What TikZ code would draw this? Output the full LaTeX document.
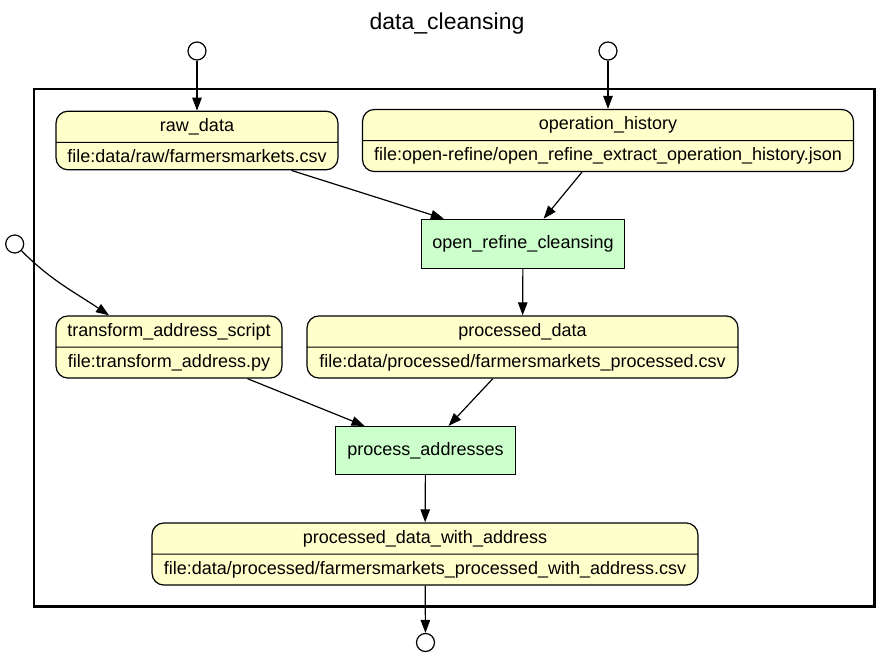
\documentclass[tikz,border=0pt]{standalone}
\usepackage{fontspec}
\setmainfont{Liberation Sans}
\usetikzlibrary{shapes.multipart,arrows.meta}
\definecolor{datafill}{HTML}{FFFFCC}
\definecolor{progfill}{HTML}{CCFFCC}
\begin{document}
\begin{tikzpicture}[x=1pt,y=1pt,font=\fontsize{18}{21}\selectfont,
  datanode/.style={draw,fill=datafill,rounded corners=12pt,rectangle split,rectangle split parts=2,
    inner xsep=0pt,inner ysep=6.5pt,text height=13pt,text depth=4pt,line width=1.2pt},
  prognode/.style={draw,fill=progfill,rectangle,inner sep=0pt,line width=1.2pt},
  port/.style={draw,circle,fill=white,minimum size=18pt,inner sep=0pt,line width=1.2pt},
  flow/.style={-{Triangle[length=13pt,width=9.5pt]},line width=1.2pt}]
\useasboundingbox (0,0) rectangle (891,657);
\def\bl{34}
\def\br{874.5}

\node[font=\fontsize{23}{27}\selectfont] (title) at (447,633) {data\_cleansing};
\draw[line width=2.6pt] (\bl,568) rectangle (\br,50.5);

% inputs and output
\node[port] (in1) at (197,606) {};
\node[port] (in2) at (608,606) {};
\node[port] (in3) at (14.7,413) {};
\node[port] (out1) at (425.5,14.5) {};

\node[datanode,minimum width=282pt] (raw) at (197,516.5) {raw\_data\nodepart{two}file:data/raw/farmersmarkets.csv};
\node[datanode,minimum width=491pt] (ophist) at (608,516.5) {operation\_history\nodepart{two}file:open-refine/open\_refine\_extract\_operation\_history.json};
\node[prognode,minimum width=203pt,minimum height=49pt] (orc) at (523,413.2) {open\_refine\_cleansing};
\node[datanode,minimum width=226pt] (tas) at (169,310) {transform\_address\_script\nodepart{two}file:transform\_address.py};
\node[datanode,minimum width=431pt] (pd) at (522.5,310) {processed\_data\nodepart{two}file:data/processed/farmersmarkets\_processed.csv};
\node[prognode,minimum width=180pt,minimum height=48pt] (pa) at (425.5,206.5) {process\_addresses};
\node[datanode,minimum width=546pt] (pdwa) at (425,103) {processed\_data\_with\_address\nodepart{two}file:data/processed/farmersmarkets\_processed\_with\_address.csv};

\draw[flow] (in1) -- (raw);
\draw[flow] (in2) -- (ophist);
\draw[flow] (in3) to[out=-45,in=146] ([xshift=-60pt]tas.north);
\draw[flow] (raw) -- (orc);
\draw[flow] (ophist) -- (orc);
\draw[flow] (orc) -- (pd);
\draw[flow] (tas) -- (pa);
\draw[flow] (pd) -- (pa);
\draw[flow] (pa) -- (pdwa);
\draw[flow] (pdwa) -- (out1);
\end{tikzpicture}
\end{document}
